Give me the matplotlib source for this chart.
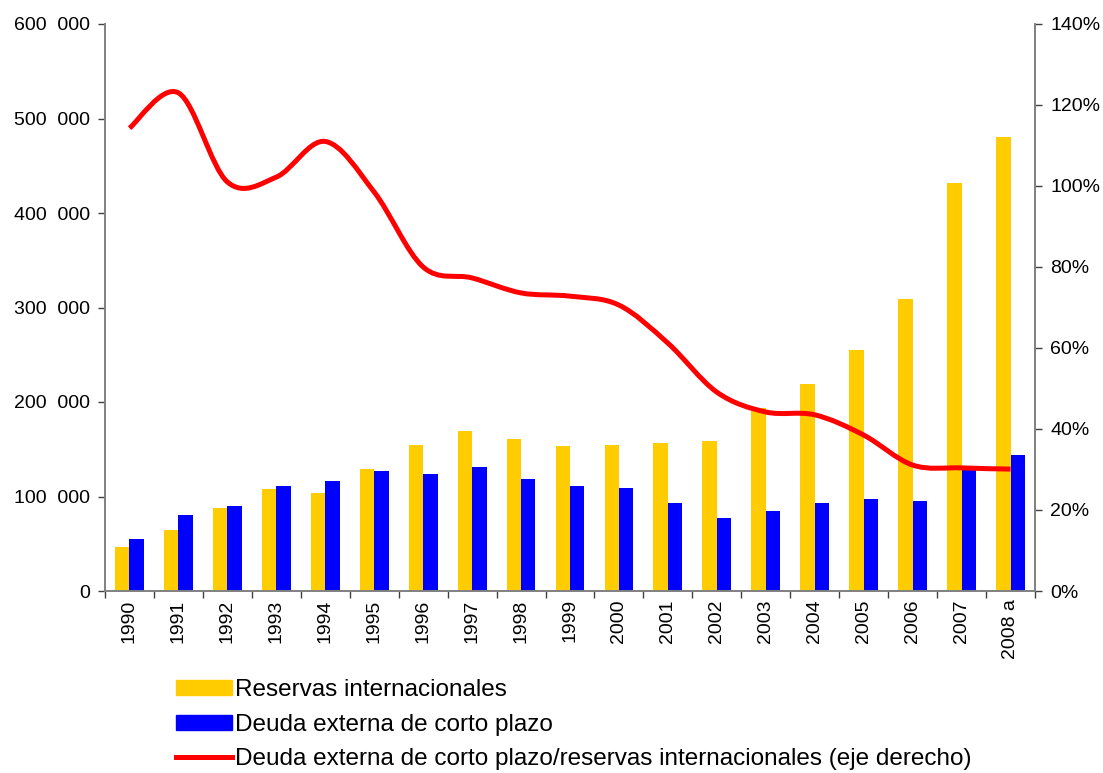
import matplotlib.pyplot as plt
import numpy as np
from matplotlib.path import Path
from matplotlib.patches import PathPatch, Patch
from matplotlib.lines import Line2D
from matplotlib.ticker import FuncFormatter, FixedLocator

plt.rcParams['font.family'] = ['Liberation Sans', 'DejaVu Sans']

years = ['1990', '1991', '1992', '1993', '1994', '1995', '1996', '1997', '1998', '1999',
         '2000', '2001', '2002', '2003', '2004', '2005', '2006', '2007', '2008 a']
reservas = [47000, 65000, 87500, 107500, 103500, 129000, 155000, 169000, 160500, 153000,
            154500, 157000, 159000, 193500, 219500, 254500, 309500, 431500, 480500]
deuda = [54500, 80000, 89500, 111000, 116000, 127000, 123500, 131000, 118500, 111500,
         108500, 93500, 77500, 85000, 93500, 97500, 95500, 129000, 144000]
ratio = [114.3, 123.0, 101.0, 102.2, 111.0, 98.5, 80.0, 77.3, 73.6, 72.8,
         70.6, 61.2, 49.1, 44.2, 43.5, 38.5, 31.1, 30.4, 30.1]

fig = plt.figure(figsize=(11.03, 7.73), dpi=100)
ax = fig.add_axes([105 / 1103, 1 - 591 / 773, 930 / 1103, 567 / 773])
ax2 = ax.twinx()

x = np.arange(len(years))
w = 0.295
ax.bar(x - w / 2, reservas, w, color='#FFCC00', zorder=2)
ax.bar(x + w / 2, deuda, w, color='#0000FF', zorder=2)

ax.set_xlim(-0.5, len(years) - 0.5)
ax.set_ylim(0, 600000)
ax.set_yticks(range(0, 600001, 100000))
ax.yaxis.set_major_formatter(FuncFormatter(
    lambda v, p: '0' if v == 0 else '{:,}'.format(int(v)).replace(',', '  ')))
ax.set_xticks(x)
ax.set_xticklabels(years, rotation=90)
ax.xaxis.set_minor_locator(FixedLocator(np.arange(-0.5, len(years), 1.0)))
ax.tick_params(axis='x', which='major', length=0, pad=6, labelsize=14)
ax.tick_params(axis='x', which='minor', length=5, width=1, color='#404040')
ax.tick_params(axis='y', length=5, width=1, color='#404040', labelsize=14, pad=6)

# smoothed line (Excel-style bezier through the data points)
pts = np.column_stack([x, ratio]).astype(float)
verts = [tuple(pts[0])]
codes = [Path.MOVETO]
n = len(pts)
for i in range(n - 1):
    p0 = pts[max(i - 1, 0)]
    p1 = pts[i]
    p2 = pts[i + 1]
    p3 = pts[min(i + 2, n - 1)]
    c1 = p1 + (p2 - p0) / 6
    c2 = p2 - (p3 - p1) / 6
    verts += [tuple(c1), tuple(c2), tuple(p2)]
    codes += [Path.CURVE4] * 3
ax2.add_patch(PathPatch(Path(verts, codes), facecolor='none', edgecolor='#FF0000',
                        lw=3.6, capstyle='butt', zorder=3))
ax2.set_ylim(0, 140)
ax2.set_yticks(range(0, 141, 20))
ax2.yaxis.set_major_formatter(FuncFormatter(lambda v, p: '%d%%' % v))
ax2.tick_params(axis='y', length=5, width=1, color='#404040', labelsize=14, pad=6)

for a in (ax, ax2):
    a.spines['top'].set_visible(False)
    for s in ('left', 'right', 'bottom'):
        a.spines[s].set_color('#808080')
        a.spines[s].set_linewidth(1.2)

handles = [Patch(color='#FFCC00'), Patch(color='#0000FF'),
           Line2D([], [], color='#FF0000', lw=3.6)]
labels = ['Reservas internacionales', 'Deuda externa de corto plazo',
          'Deuda externa de corto plazo/reservas internacionales (eje derecho)']
fig.legend(handles, labels, loc='upper left', bbox_to_anchor=(176 / 1103, 1 - 679 / 773),
           frameon=False, fontsize=17.5, handlelength=2.3, handleheight=0.58,
           handletextpad=0.12, labelspacing=0.52, borderpad=0, borderaxespad=0)

fig.savefig('out.png', dpi=100)
